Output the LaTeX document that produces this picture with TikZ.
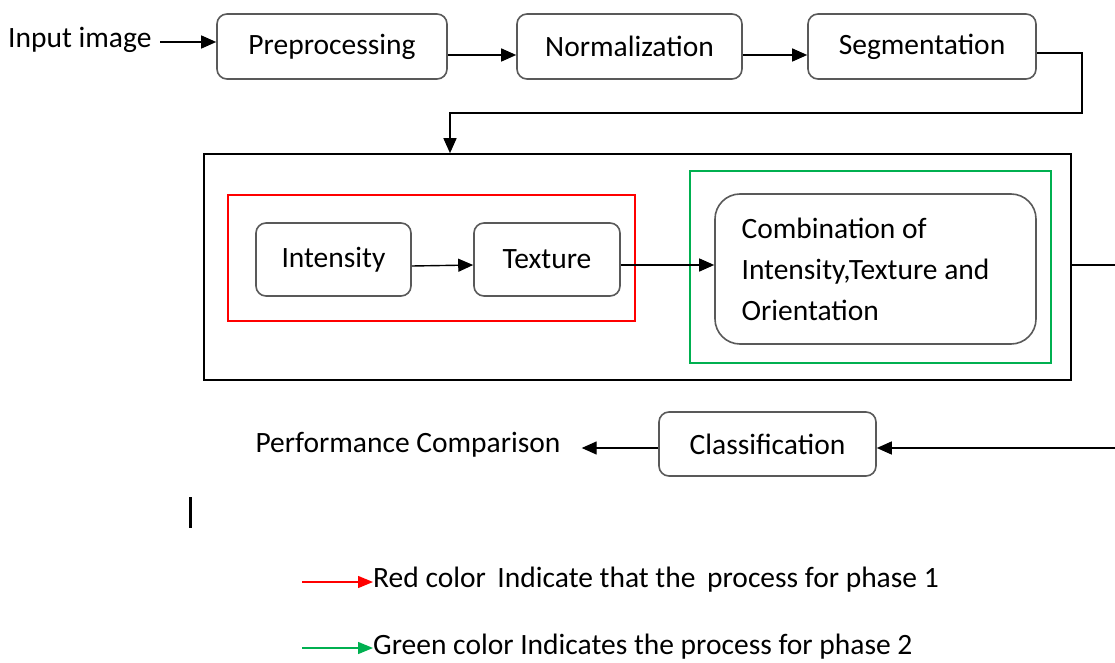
\documentclass[tikz,border=0pt]{standalone}
\usepackage{fontspec}
\setmainfont{Carlito}
\usetikzlibrary{arrows.meta,calc}
\tikzset{
  stage/.style={draw=black!65, line width=1.6pt, rounded corners=10pt, align=center,
    inner sep=0pt, font=\fontsize{29.5}{35}\selectfont},
  frame/.style={line width=1.6pt},
  link/.style={line width=1.4pt, -{Triangle[length=15pt,width=13pt]}},
  plain/.style={line width=1.4pt},
  lbl/.style={inner sep=0pt, font=\fontsize{29.5}{35}\selectfont},
}
\definecolor{phasegreen}{RGB}{0,176,80}
\begin{document}
\begin{tikzpicture}[x=1pt,y=-1pt]
\useasboundingbox (0,0) rectangle (1115,663);

% top row of stages
\node[lbl, anchor=west] (inp) at (8,40) {Input image};
\node[stage, minimum width=230, minimum height=65] (pre) at (332,46.5) {Preprocessing};
\node[stage, minimum width=225, minimum height=65] (nor) at (629.5,46.5) {Normalization};
\node[stage, minimum width=228, minimum height=65] (seg) at (922,46.5) {Segmentation};

% feature extraction block
\node[draw, frame, minimum width=867, minimum height=226, inner sep=0] (big) at (637.5,267) {};
\node[draw=red, line width=1.2pt, minimum width=407, minimum height=126, inner sep=0] (red) at (431.5,258) {};
\node[draw=phasegreen, line width=1.2pt, minimum width=361, minimum height=192, inner sep=0] (grn) at (870.5,267) {};
\node[stage, minimum width=155, minimum height=73] (int) at (333.5,259.5) {Intensity};
\node[stage, minimum width=146, minimum height=73] (tex) at (547,259.5) {Texture};
\node[stage, rounded corners=25pt, minimum width=321, minimum height=150, align=left,
      font=\fontsize{29.5}{41}\selectfont] (comb) at (875.5,269)
      {\hspace*{-20pt}Combination of\\\hspace*{-20pt}Intensity,Texture and\\\hspace*{-20pt}Orientation};

% output row
\node[stage, minimum width=217, minimum height=64] (cls) at (767.5,444) {Classification};
\node[lbl] (perf) at (408,445) {Performance Comparison};

% connectors
\coordinate (inS) at (160,42);
\draw[link] (inS) -- (inS -| pre.west);
\draw[link] ([yshift=-8.5pt]pre.east) -- ([yshift=-8.5pt]nor.west);
\draw[link] ([yshift=-8.5pt]nor.east) -- ([yshift=-8.5pt]seg.east -| seg.west);
\coordinate (drop) at (450,113);
\draw[link] ([yshift=-6.5pt]seg.east) -- ++(45,0) |- (drop) -- (drop |- big.north);
\draw[link] ([yshift=-6.5pt]int.east) -- ([yshift=-5.5pt]tex.west);
\draw[link] ([yshift=-5.5pt]tex.east) -- ([yshift=-5.5pt]tex.east -| comb.west);
\coordinate (outR) at (1115,265);
\draw[plain] (big.east |- outR) -- (outR);
\coordinate (inR) at (1115,448);
\draw[link] (inR) -- (cls.east |- inR);
\coordinate (perfTip) at ([xshift=21pt]perf.east |- inR);
\draw[link] (cls.west |- inR) -- (perfTip);

% text cursor mark
\draw[line width=3pt] (190,497) -- (190,528);

% legend
\node[lbl, anchor=west] (lr) at (373,580) {Red color\, Indicate that the\, process for phase 1};
\node[lbl, anchor=west] (lg) at (373,647) {Green color Indicates the process for phase 2};
\coordinate (lrs) at (302,582);
\coordinate (lgs) at (302,648);
\draw[line width=1.4pt, red, -{Triangle[length=15pt,width=12pt]}] (lrs) -- (lrs -| lr.west);
\draw[line width=1.4pt, phasegreen, -{Triangle[length=15pt,width=12pt]}] (lgs) -- (lgs -| lg.west);
\end{tikzpicture}
\end{document}
